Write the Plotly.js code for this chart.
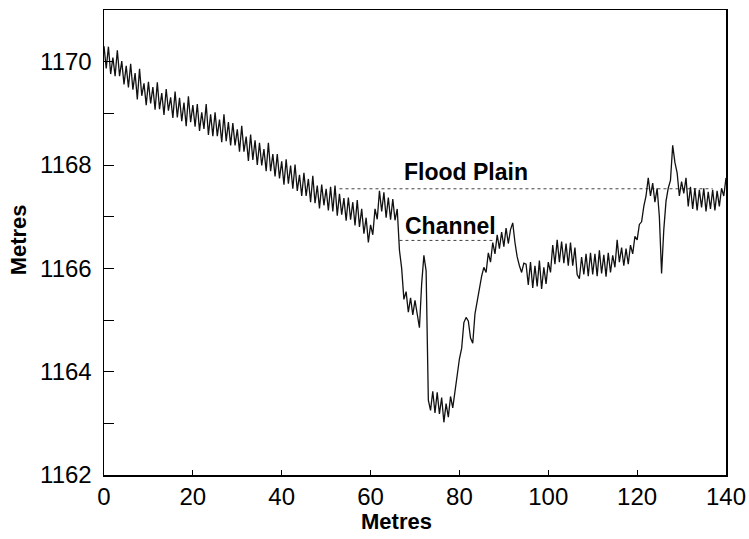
<!DOCTYPE html>
<html>
<head>
<meta charset="utf-8">
<script src="https://cdn.plot.ly/plotly-3.0.1.min.js"></script>
<style>html,body{margin:0;padding:0;background:#fff;}#chart{width:749px;height:539px;}</style>
</head>
<body>
<div id="chart"></div>
<script>
// Sample spacing along the transect (metres)
const sampleStart = 0;
const sampleStep = 0.5;

// Elevation profile (metres), one value per 0.5 m
const elevation = [
  1170.30, 1169.87, 1170.29, 1169.76, 1170.08, 1169.72, 1170.22, 1169.72, 1170.01, 1169.56,
  1169.92, 1169.50, 1169.96, 1169.46, 1169.78, 1169.27, 1169.86, 1169.34, 1169.58, 1169.16,
  1169.61, 1169.19, 1169.51, 1169.07, 1169.60, 1169.08, 1169.39, 1168.97, 1169.47, 1169.05,
  1169.31, 1168.91, 1169.42, 1168.92, 1169.30, 1168.85, 1169.21, 1168.75, 1169.33, 1168.83,
  1169.16, 1168.74, 1169.18, 1168.66, 1169.02, 1168.70, 1169.18, 1168.58, 1168.98, 1168.56,
  1169.02, 1168.56, 1168.88, 1168.44, 1168.98, 1168.46, 1168.83, 1168.38, 1168.81, 1168.38,
  1168.69, 1168.26, 1168.76, 1168.26, 1168.55, 1168.08, 1168.59, 1168.10, 1168.48, 1168.00,
  1168.43, 1167.99, 1168.31, 1167.88, 1168.43, 1167.88, 1168.21, 1167.78, 1168.21, 1167.74,
  1168.07, 1167.62, 1168.11, 1167.64, 1167.99, 1167.54, 1168.01, 1167.50, 1167.81, 1167.40,
  1167.85, 1167.40, 1167.73, 1167.28, 1167.79, 1167.26, 1167.60, 1167.16, 1167.62, 1167.22,
  1167.54, 1167.12, 1167.58, 1167.10, 1167.60, 1167.02, 1167.44, 1167.04, 1167.36, 1166.92,
  1167.37, 1166.94, 1167.28, 1166.83, 1167.32, 1166.80, 1167.15, 1166.67, 1166.98, 1166.50,
  1166.84, 1166.65, 1167.15, 1166.95, 1167.50, 1167.10, 1167.47, 1166.98, 1167.37, 1166.94,
  1167.34, 1166.93, 1167.15, 1166.35, 1166.00, 1165.40, 1165.55, 1165.15, 1165.43, 1165.10,
  1165.38, 1165.12, 1164.85, 1165.70, 1166.25, 1165.95, 1163.45, 1163.25, 1163.62, 1163.20,
  1163.60, 1163.18, 1163.50, 1163.02, 1163.38, 1163.12, 1163.52, 1163.30, 1163.65, 1163.90,
  1164.25, 1164.45, 1164.95, 1165.05, 1164.98, 1164.65, 1164.55, 1165.12, 1165.35, 1165.65,
  1165.85, 1166.02, 1165.92, 1166.30, 1166.12, 1166.50, 1166.28, 1166.65, 1166.38, 1166.70,
  1166.42, 1166.78, 1166.48, 1166.75, 1166.88, 1166.50, 1166.22, 1166.05, 1165.92, 1166.10,
  1166.08, 1165.68, 1166.12, 1165.62, 1166.05, 1165.65, 1166.15, 1165.60, 1166.02, 1165.70,
  1166.12, 1165.92, 1166.45, 1166.08, 1166.55, 1166.12, 1166.52, 1166.10, 1166.48, 1166.05,
  1166.50, 1166.05, 1166.40, 1165.88, 1165.80, 1166.22, 1165.88, 1166.28, 1165.85, 1166.30,
  1165.88, 1166.28, 1165.85, 1166.35, 1165.90, 1166.26, 1165.84, 1166.30, 1165.92, 1166.25,
  1166.02, 1166.55, 1166.12, 1166.40, 1166.05, 1166.38, 1166.08, 1166.45, 1166.28, 1166.62,
  1166.55, 1166.85, 1166.90, 1167.20, 1167.40, 1167.75, 1167.40, 1167.65, 1167.28, 1167.55,
  1167.00, 1165.90, 1166.75, 1167.30, 1167.55, 1167.70, 1168.38, 1168.05, 1167.85, 1167.40,
  1167.68, 1167.45, 1167.75, 1167.20, 1167.58, 1167.15, 1167.55, 1167.12, 1167.52, 1167.18,
  1167.55, 1167.10, 1167.48, 1167.15, 1167.52, 1167.12, 1167.50, 1167.20, 1167.55, 1167.40,
  1167.75
];

// Reference levels
const floodPlainX = [53, 137];
const floodPlainY = [1167.54, 1167.54];
const channelX = [66.5, 88];
const channelY = [1166.54, 1166.54];

// Labels
const labelTexts = ["Flood Plain", "Channel"];
const labelX = [81.5, 77.9];
const labelY = [1167.87, 1166.82];

// Axis ticks and titles
const xTickVals = [0, 20, 40, 60, 80, 100, 120, 140];
const yTickVals = [1162, 1163, 1164, 1165, 1166, 1167, 1168, 1169, 1170, 1171];
const yTickText = ["1162", "", "1164", "", "1166", "", "1168", "", "1170", ""];
const xTitle = "Metres";
const yTitle = "Metres";

const distance = elevation.map((_, i) => sampleStart + i * sampleStep);

const FONT = "Liberation Sans, Arial, Helvetica, sans-serif";

const traces = [
  {
    x: floodPlainX, y: floodPlainY, mode: "lines", type: "scatter",
    line: {color: "#444", width: 1, dash: "dot"}, hoverinfo: "skip"
  },
  {
    x: channelX, y: channelY, mode: "lines", type: "scatter",
    line: {color: "#444", width: 1, dash: "dot"}, hoverinfo: "skip"
  },
  {
    x: distance, y: elevation, mode: "lines", type: "scatter",
    line: {color: "#111", width: 1.3}
  }
];

const annots = labelTexts.map((t, i) => ({
  x: labelX[i], y: labelY[i], xref: "x", yref: "y",
  text: "<b>" + t + "</b>", showarrow: false,
  font: {size: 23, family: FONT, color: "#000"},
  xanchor: "center", yanchor: "middle"
}));
annots.push({
  x: 0.471, y: -0.101, xref: "paper", yref: "paper",
  text: "<b>" + xTitle + "</b>", showarrow: false,
  font: {size: 22, family: FONT, color: "#000"},
  xanchor: "center", yanchor: "middle"
});
annots.push({
  x: -0.138, y: 0.505, xref: "paper", yref: "paper",
  text: "<b>" + yTitle + "</b>", showarrow: false, textangle: -90,
  font: {size: 22, family: FONT, color: "#000"},
  xanchor: "center", yanchor: "middle"
});

const layout = {
  width: 749, height: 539,
  margin: {l: 104, r: 23, t: 10, b: 64},
  paper_bgcolor: "#fff", plot_bgcolor: "#fff",
  showlegend: false,
  font: {family: FONT, color: "#000"},
  xaxis: {
    range: [0, 140], tickvals: xTickVals, ticktext: xTickVals.map(String),
    ticks: "inside", ticklen: 5, tickwidth: 1, tickcolor: "#000",
    showline: true, linecolor: "#000", linewidth: 1.5, mirror: true,
    showgrid: false, zeroline: false,
    tickfont: {size: 24, family: FONT, color: "#000"}
  },
  yaxis: {
    range: [1162, 1171], tickvals: yTickVals, ticktext: yTickText,
    ticks: "inside", ticklen: 10, tickwidth: 1, tickcolor: "#000",
    showline: true, linecolor: "#000", linewidth: 1.5, mirror: true,
    showgrid: false, zeroline: false,
    ticklabelstandoff: 6,
    tickfont: {size: 24, family: FONT, color: "#000"}
  },
  annotations: annots
};

Plotly.newPlot("chart", traces, layout, {staticPlot: true, displayModeBar: false});
</script>
</body>
</html>
